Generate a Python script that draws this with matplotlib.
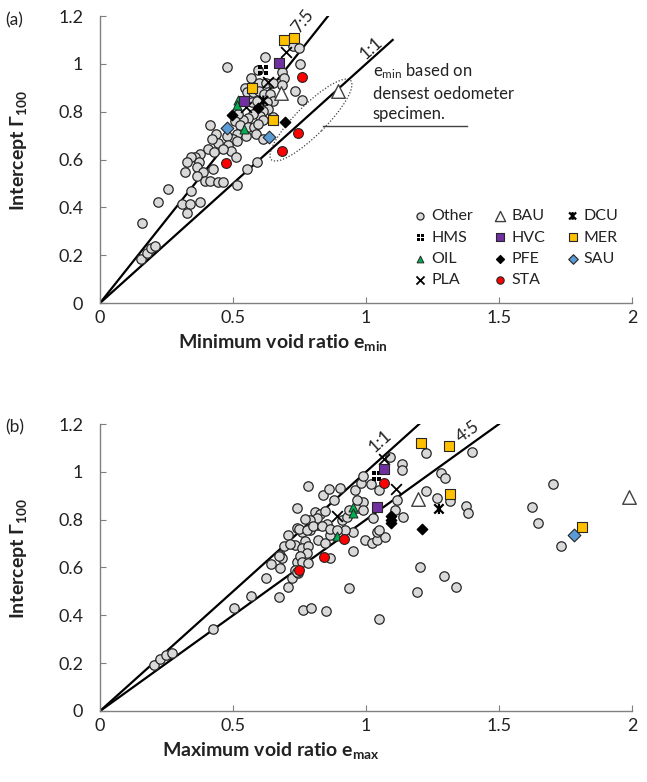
import numpy as np
import matplotlib
matplotlib.use("Agg")
import matplotlib.pyplot as plt
from matplotlib.path import Path
from matplotlib.patches import Ellipse
from matplotlib.transforms import IdentityTransform

plt.rcParams['font.family'] = ['Lato', 'DejaVu Sans']
plt.rcParams['mathtext.fontset'] = 'custom'
plt.rcParams['mathtext.rm'] = 'Lato'
plt.rcParams['mathtext.it'] = 'Lato:italic'
plt.rcParams['mathtext.bf'] = 'Lato:bold'

# ------------------------
# Data: (void ratio, intercept Gamma_100)
# ------------------------
# panel (a): minimum void ratio
A_OTHER = [(.724, 1.075), (.749, 1.068), (.620, 1.029), (.752, 1.001), (.476, .988),
           (.593, .975), (.685, .964), (.568, .940), (.692, .940), (.596, .918),
           (.624, .922), (.649, .918), (.683, .912), (.733, .888), (.759, .849),
           (.545, .901), (.551, .881), (.576, .881), (.599, .885), (.617, .876),
           (.639, .876), (.652, .846), (.570, .839), (.589, .846), (.627, .839),
           (.633, .811), (.614, .804), (.602, .783), (.612, .765), (.576, .790),
           (.558, .774), (.539, .765), (.520, .790), (.508, .762), (.526, .746),
           (.558, .735), (.579, .737), (.595, .749), (.586, .707), (.548, .700),
           (.514, .707), (.501, .686), (.476, .700), (.436, .707), (.445, .668),
           (.420, .686), (.414, .746), (.407, .644), (.482, .662), (.514, .679),
           (.491, .635), (.464, .644), (.429, .631), (.376, .624), (.357, .610),
           (.341, .610), (.326, .589), (.372, .589), (.363, .568), (.426, .561),
           (.388, .547), (.320, .547), (.363, .533), (.395, .510), (.414, .510),
           (.445, .506), (.510, .610), (.514, .492), (.589, .589), (.551, .561),
           (.464, .506), (.257, .478), (.341, .468), (.219, .422), (.307, .415),
           (.338, .415), (.376, .422), (.613, .686), (.649, .779), (.158, .336),
           (.154, .186), (.175, .211), (.192, .230), (.207, .238), (.326, .376)]
A_HMS = [(.613, .975)]
A_OIL = [(.517, .850), (.514, .830), (.543, .727)]
A_PLA = [(.700, 1.050), (.633, .926), (.550, .820)]
A_BAU = [(.680, .880), (.893, .888)]
A_HVC = [(.674, 1.005), (.540, .846)]
A_PFE = [(.495, .785), (.595, .815), (.695, .757)]
A_STA = [(.760, .943), (.746, .711), (.684, .635), (.474, .585)]
A_DCU = [(.614, .846)]
A_MER = [(.690, 1.100), (.730, 1.110), (.571, .897), (.649, .765)]
A_SAU = [(.476, .730), (.636, .694)]

# panel (b): maximum void ratio
B_OTHER = [(.203, .192), (.226, .216), (.248, .234), (.269, .241), (.426, .343),
           (.504, .430), (.568, .481), (.623, .554), (.643, .615), (.677, .597),
           (.674, .476), (.677, .653), (.683, .639), (.692, .690), (.708, .736),
           (.733, .695), (.739, .764), (.739, .625), (.733, .590), (.720, .555),
           (.705, .520), (.746, .576), (.758, .750), (.789, .757), (.795, .785),
           (.820, .778), (.852, .782), (.771, .709), (.758, .681), (.783, .688),
           (.777, .660), (.820, .715), (.845, .702), (.865, .736), (.752, .646),
           (.758, .625), (.783, .618), (.739, .583), (.865, .639), (.950, .667),
           (.936, .513), (.996, .713), (1.021, .704), (1.040, .715), (1.040, .750),
           (.952, .748), (.921, .757), (.764, .423), (.793, .430), (.848, .420),
           (1.050, .384), (.780, .941), (.739, .848), (.840, .904), (.862, .929),
           (.880, .883), (.902, .932), (.808, .834), (.827, .824), (.846, .838),
           (.815, .806), (.789, .799), (.771, .802), (.749, .760), (.777, .757),
           (.800, .774), (.833, .774), (.865, .760), (.892, .757), (.909, .799),
           (.927, .813), (.937, .841), (.965, .848), (.990, .872), (.967, .883),
           (.959, .925), (.980, .953), (.987, .983), (1.018, .950), (1.050, .922),
           (1.028, .806), (.990, .841), (1.070, .729), (1.047, .757), (.714, .697),
           (.674, .646), (1.137, 1.033), (1.134, 1.008), (1.090, 1.061), (1.115, .883),
           (1.140, .813), (1.226, .918), (1.225, 1.078), (1.268, .890), (1.203, .600),
           (1.190, .497), (1.397, 1.085), (1.281, .997), (1.297, .974), (1.316, .879),
           (1.376, .858), (1.385, .827), (1.109, .841), (1.294, .565), (1.337, .520),
           (1.704, .948), (1.622, .852), (1.646, .788), (1.733, .690)]
B_HMS = [(1.039, .983)]
B_OIL = [(.950, .852), (.952, .827), (.890, .732)]
B_PLA = [(1.068, 1.053), (1.113, .929), (.892, .817)]
B_BAU = [(1.194, .887), (1.990, .895)]
B_HVC = [(1.068, 1.011), (1.042, .852)]
B_PFE = [(1.093, .816), (1.093, .799), (1.093, .787), (1.210, .762)]
B_STA = [(1.069, .953), (.916, .720), (.843, .642), (.748, .590)]
B_DCU = [(1.274, .845)]
B_MER = [(1.205, 1.120), (1.313, 1.109), (1.316, .908), (1.811, .771)]
B_SAU = [(1.783, .736)]

# reference lines: Gamma = ratio * e, drawn up to e_end
A_RATIOS = [1.4, 1.0]
A_RATIO_LABELS = ['7:5', '1:1']
A_LINE_END = [0.857, 1.1]
A_LABEL_POS = [(0.762, 1.18), (1.02, 1.067)]
B_RATIOS = [1.0, 0.8]
B_RATIO_LABELS = ['1:1', '4:5']
B_LINE_END = [1.2, 1.5]
B_LABEL_POS = [(1.053, 1.127), (1.381, 1.169)]

GROUPS = ['Other', 'HMS', 'OIL', 'PLA', 'BAU', 'HVC', 'PFE', 'STA', 'DCU', 'MER', 'SAU']

# ------------------------
# Marker styles
# ------------------------
sq = []
codes = []
for cx, cy in [(-0.5, -0.5), (0.5, -0.5), (-0.5, 0.5), (0.5, 0.5)]:
    h = 0.38
    sq += [(cx - h, cy - h), (cx + h, cy - h), (cx + h, cy + h), (cx - h, cy + h), (cx - h, cy - h)]
    codes += [Path.MOVETO, Path.LINETO, Path.LINETO, Path.LINETO, Path.CLOSEPOLY]
hms_marker = Path(sq, codes)
dcu_marker = Path([(-1, -1), (1, 1), (-1, 1), (1, -1), (0, -1.1), (0, 1.1)],
                  [Path.MOVETO, Path.LINETO, Path.MOVETO, Path.LINETO, Path.MOVETO, Path.LINETO])

edge = '#262626'
STYLE = {
    'Other': dict(marker='o', s=46, facecolors='#d9d9d9', edgecolors=edge, linewidths=0.9),
    'HMS': dict(marker=hms_marker, s=50, facecolors='black', edgecolors='none'),
    'OIL': dict(marker='^', s=42, facecolors='#00b050', edgecolors=edge, linewidths=0.7),
    'PLA': dict(marker='x', s=60, color='black', linewidths=1.3),
    'BAU': dict(marker='^', s=95, facecolors='white', edgecolors='#404040', linewidths=1.0),
    'HVC': dict(marker='s', s=50, facecolors='#7030a0', edgecolors=edge, linewidths=0.8),
    'PFE': dict(marker='D', s=28, facecolors='black', edgecolors='black'),
    'STA': dict(marker='o', s=50, facecolors='#ff0000', edgecolors=edge, linewidths=0.8),
    'DCU': dict(marker=dcu_marker, s=55, facecolors='none', edgecolors='black', linewidths=1.6),
    'MER': dict(marker='s', s=50, facecolors='#ffc000', edgecolors=edge, linewidths=0.8),
    'SAU': dict(marker='D', s=42, facecolors='#5b9bd5', edgecolors=edge, linewidths=0.8),
}

panel_a = dict(zip(GROUPS, [A_OTHER, A_HMS, A_OIL, A_PLA, A_BAU, A_HVC, A_PFE, A_STA, A_DCU, A_MER, A_SAU]))
panel_b = dict(zip(GROUPS, [B_OTHER, B_HMS, B_OIL, B_PLA, B_BAU, B_HVC, B_PFE, B_STA, B_DCU, B_MER, B_SAU]))

# ------------------------
# Figure
# ------------------------
fig = plt.figure(figsize=(6.47, 7.82), dpi=100)
ax_a = fig.add_axes([0.1546, 0.6125, 0.8223, 0.367])
ax_b = fig.add_axes([0.1546, 0.0908, 0.8223, 0.367])


def draw_panel(ax, data, ratios, ends, rlabels, lpos, xlabel, xlab_x):
    ax.set_xlim(0, 2)
    ax.set_ylim(0, 1.2)
    for name in GROUPS:
        pts = np.array(data[name])
        ax.scatter(pts[:, 0], pts[:, 1], label=name,
                   zorder=3 if name == 'Other' else 4, clip_on=False, **STYLE[name])
    for r, end, lab, pos in zip(ratios, ends, rlabels, lpos):
        ax.plot([0, end], [0, r * end], color='black', lw=1.6, zorder=2)
        p0 = ax.transData.transform((0, 0))
        p1 = ax.transData.transform((1, r))
        ang = np.degrees(np.arctan2(p1[1] - p0[1], p1[0] - p0[0]))
        ax.text(pos[0], pos[1], lab, rotation=ang, ha='center', va='center',
                fontsize=12.5, color='#222222', rotation_mode='anchor')

    for side in ['top', 'right']:
        ax.spines[side].set_visible(False)
    for side in ['left', 'bottom']:
        ax.spines[side].set_color('#808080')
        ax.spines[side].set_linewidth(1.0)
    ax.set_xticks([0, 0.5, 1, 1.5, 2])
    ax.set_xticklabels(['0', '0.5', '1', '1.5', '2'])
    ax.set_yticks([0, 0.2, 0.4, 0.6, 0.8, 1.0, 1.2])
    ax.set_yticklabels(['0', '0.2', '0.4', '0.6', '0.8', '1', '1.2'])
    ax.tick_params(direction='in', length=4, color='#808080', labelsize=13,
                   labelcolor='#222222')
    ax.tick_params(axis='y', pad=12)
    ax.tick_params(axis='x', pad=5)

    ax.set_xlabel(xlabel, fontsize=14, fontweight='bold', color='#222222', va='center')
    ax.xaxis.set_label_coords(xlab_x, -0.137)
    ax.set_ylabel(r'Intercept $\mathbf{\Gamma_{100}}$', fontsize=14,
                  fontweight='bold', color='#222222', va='center')
    ax.yaxis.set_label_coords(-0.154, 0.53)


draw_panel(ax_a, panel_a, A_RATIOS, A_LINE_END, A_RATIO_LABELS, A_LABEL_POS,
           r'Minimum void ratio $\mathbf{e_{min}}$', 0.344)
draw_panel(ax_b, panel_b, B_RATIOS, B_LINE_END, B_RATIO_LABELS, B_LABEL_POS,
           r'Maximum void ratio $\mathbf{e_{max}}$', 0.321)

# legend in panel (a)
leg = ax_a.legend(loc='upper left', bbox_to_anchor=(0.575, 0.35), ncol=3, frameon=False,
                  fontsize=11.5, markerscale=0.75, handletextpad=0.2, columnspacing=1.2,
                  labelspacing=0.45, handlelength=1.0, borderaxespad=0)
for t in leg.get_texts():
    t.set_color('#222222')

# annotation for the densest oedometer specimens
ax_a.text(1.026, 1.01, '$\\mathregular{e_{min}}$ based on\ndensest oedometer\nspecimen.',
          ha='left', va='top', fontsize=12, linespacing=1.35, color='#222222')
ax_a.plot([0.838, 1.38], [0.742, 0.742], color='#404040', lw=1.0)
fig.canvas.draw()
cx, cy = ax_a.transData.transform((0.793, 0.765))
ax_a.add_patch(Ellipse((cx, cy), 112, 30, angle=45, transform=IdentityTransform(),
                       fill=False, ls=(0, (1, 1.5)), ec='#404040', lw=0.9))

fig.text(0.008, 0.974, '(a)', fontsize=12.5, va='center', color='#222222')
fig.text(0.008, 0.453, '(b)', fontsize=12.5, va='center', color='#222222')

fig.savefig('out.png', dpi=100)
